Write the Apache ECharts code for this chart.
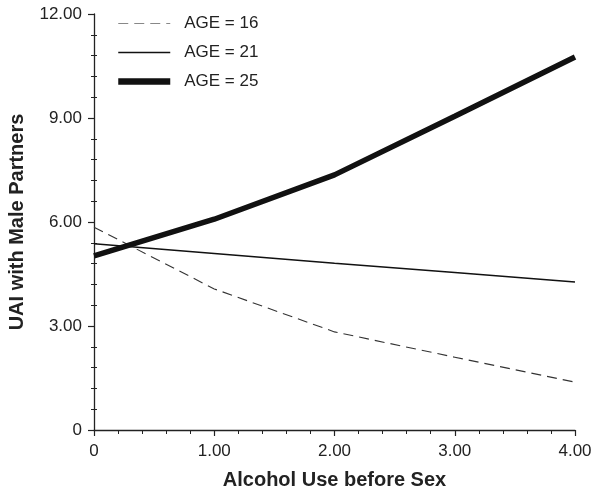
<!DOCTYPE html>
<html>
<head>
<meta charset="utf-8">
<script src="https://cdn.jsdelivr.net/npm/echarts@6/dist/echarts.min.js"></script>
<style>
html,body{margin:0;padding:0;background:#fff;}
#chart{width:600px;height:497px;}
</style>
</head>
<body>
<div id="chart"></div>
<script>
// Data
var xValues = [0, 1, 2, 3, 4];
var age16 = [5.85, 4.07, 2.83, 2.10, 1.38];
var age21 = [5.37, 5.09, 4.81, 4.54, 4.27];
var age25 = [5.02, 6.08, 7.36, 9.05, 10.76];
var seriesNames = ['AGE = 16', 'AGE = 21', 'AGE = 25'];
var xTickLabels = ['0', '1.00', '2.00', '3.00', '4.00'];
var yTickLabels = ['0', '3.00', '6.00', '9.00', '12.00'];

function pairs(ys) {
  return xValues.map(function (x, i) { return [x, ys[i]]; });
}

var FONT = '"Liberation Sans", Arial, Helvetica, sans-serif';
var chart = echarts.init(document.getElementById('chart'));

var yCommon = {
  type: 'value', min: 0, max: 12, interval: 3, splitNumber: 5
};

chart.setOption({
  animation: false,
  backgroundColor: '#fff',
  grid: { left: 94, right: 25, top: 14, bottom: 67, containLabel: false, outerBoundsMode: 'none' },
  legend: {
    orient: 'vertical', left: 115, top: 15, padding: 0,
    itemWidth: 52, itemHeight: 14, itemGap: 12,
    itemStyle: { opacity: 0 },
    data: [
      { name: seriesNames[0], lineStyle: { width: 1, color: '#888', type: [10, 6] } },
      { name: seriesNames[1], lineStyle: { width: 1.6, color: '#111' } },
      { name: seriesNames[2], lineStyle: { width: 6.5, color: '#111' } }
    ],
    textStyle: { fontFamily: FONT, fontSize: 17, color: '#222', padding: [0, 0, 0, 9] }
  },
  xAxis: {
    type: 'value', min: 0, max: 4, interval: 1, splitNumber: 5,
    name: 'Alcohol Use before Sex', nameLocation: 'middle', nameGap: 40,
    nameTextStyle: { fontFamily: FONT, fontSize: 20, fontWeight: 'bold', color: '#222' },
    axisLine: { show: true, onZero: false, lineStyle: { color: '#222', width: 1.3 } },
    axisTick: { show: true, length: 6, lineStyle: { color: '#222', width: 1.2 } },
    minorTick: { show: true, splitNumber: 5, length: 4, lineStyle: { color: '#222', width: 1 } },
    splitLine: { show: false },
    axisLabel: {
      fontFamily: FONT, fontSize: 17, color: '#222', margin: 13,
      formatter: function (v) { return xTickLabels[Math.round(v)]; }
    }
  },
  yAxis: [
    Object.assign({}, yCommon, {
      name: 'UAI with Male Partners', nameLocation: 'middle', nameGap: 67, nameRotate: 90,
      nameTextStyle: { fontFamily: FONT, fontSize: 20, fontWeight: 'bold', color: '#222' },
      axisLine: { show: true, onZero: false, lineStyle: { color: '#222', width: 1.3 } },
      axisTick: { show: true, length: 6, lineStyle: { color: '#222', width: 1.2 } },
      minorTick: { show: true, splitNumber: 5, length: 3, lineStyle: { color: '#222', width: 1 } },
      splitLine: { show: false },
      axisLabel: {
        fontFamily: FONT, fontSize: 17, color: '#222', margin: 12,
        formatter: function (v) { return yTickLabels[Math.round(v / 3)]; }
      }
    }),
    Object.assign({}, yCommon, {
      position: 'left',
      axisLine: { show: false },
      axisTick: { show: false, inside: true },
      minorTick: { show: true, splitNumber: 5, length: 3, lineStyle: { color: '#222', width: 1 } },
      splitLine: { show: false },
      axisLabel: { show: false }
    })
  ],
  series: [
    {
      name: seriesNames[0], type: 'line', data: pairs(age16), symbol: 'none',
      lineStyle: { color: '#333', width: 1.1, type: [10, 6] }, itemStyle: { color: '#333' }
    },
    {
      name: seriesNames[1], type: 'line', data: pairs(age21), symbol: 'none',
      lineStyle: { color: '#111', width: 1.5 }, itemStyle: { color: '#111' }
    },
    {
      name: seriesNames[2], type: 'line', data: pairs(age25), symbol: 'none',
      lineStyle: { color: '#111', width: 5.5 }, itemStyle: { color: '#111' }
    }
  ]
});
</script>
</body>
</html>
